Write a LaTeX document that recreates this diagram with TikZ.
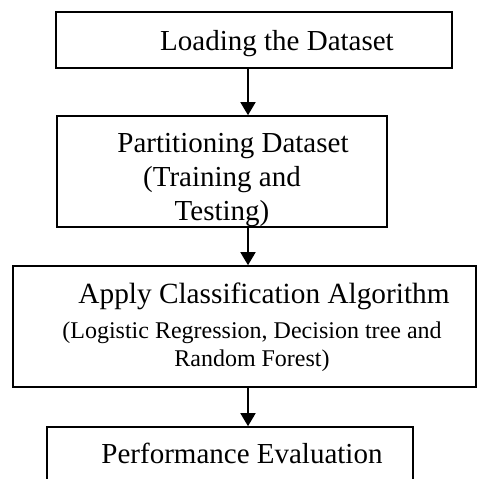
\documentclass[tikz,border=0pt]{standalone}
\usepackage{fontspec}
\setmainfont{Liberation Serif}
\usetikzlibrary{arrows.meta}
% shift the text of a box without changing its size
\newcommand{\nudge}[3]{\raisebox{#2}[\height][\depth]{\hspace*{#1}#3}}
\tikzset{
  stage/.style={draw, line width=1.6pt, inner sep=0pt, font=\fontsize{29}{34}\selectfont},
  flow/.style={line width=1.6pt, -{Triangle[width=15pt,length=13pt]}}
}
\begin{document}
\begin{tikzpicture}[x=1pt,y=-1pt]
  \clip (0,0) rectangle (477,479);
  \coordinate (axis) at (248,0);
  \node[stage, minimum width=396pt, minimum height=56pt] (load) at (254,40)
    {\nudge{46pt}{-3.2pt}{\begin{tabular}{@{}c@{}}Loading the Dataset\end{tabular}}};
  \node[stage, minimum width=330pt, minimum height=111pt] (part) at (222,171.5)
    {\nudge{0pt}{-8.4pt}{\begin{tabular}{@{}c@{}}\hspace*{22pt}Partitioning Dataset\\ (Training and\\ Testing)\end{tabular}}};
  \node[stage, minimum width=463pt, minimum height=121pt] (algo) at (244.5,326.5)
    {\nudge{15pt}{-1.7pt}{\begin{tabular}{@{}c@{}}\fontsize{29.3}{34}\selectfont\hspace*{24pt}Apply Classification Algorithm\\[1pt]
      \fontsize{24}{28}\selectfont(Logistic Regression, Decision tree and\\[-5.6pt]
      \fontsize{24}{28}\selectfont Random Forest)\end{tabular}}};
  \node[stage, minimum width=366pt, minimum height=70pt] (eval) at (230,462)
    {\nudge{24pt}{5.5pt}{\begin{tabular}{@{}c@{}}Performance Evaluation\end{tabular}}};
  \draw[flow] (load.south -| axis) -- (part.north -| axis);
  \draw[flow] (part.south -| axis) -- (algo.north -| axis);
  \draw[flow] (algo.south -| axis) -- (eval.north -| axis);
\end{tikzpicture}
\end{document}
